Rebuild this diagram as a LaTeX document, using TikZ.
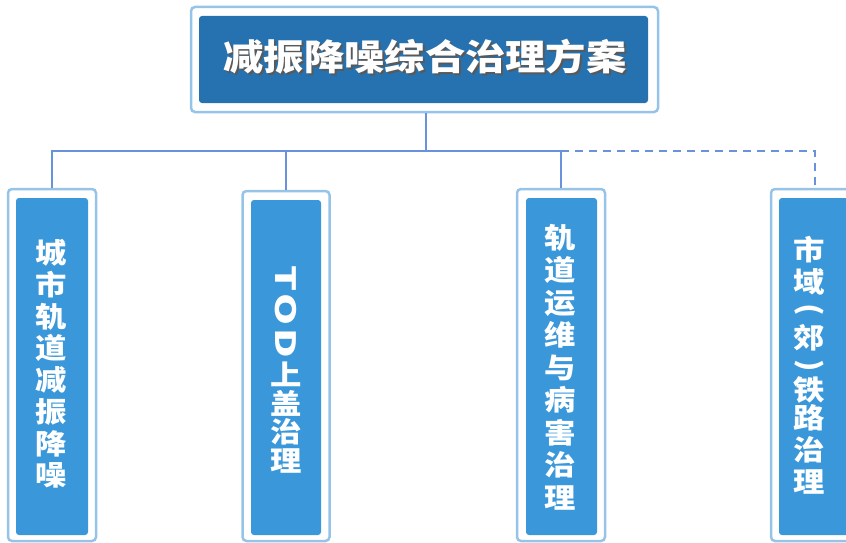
\documentclass[tikz,border=0pt]{standalone}
\usepackage{fontspec}
\setmainfont{Noto Sans CJK SC}[BoldFont={Noto Sans CJK SC Black}]
\newfontfamily\widecjk{Noto Sans CJK SC Black}[FakeStretch=1.12]
\definecolor{framecol}{RGB}{150,196,232}
\definecolor{titlefill}{RGB}{38,114,176}
\definecolor{childfill}{RGB}{58,152,218}
\definecolor{conncol}{RGB}{104,146,220}
\newcommand{\titletext}{减振降噪综合治理方案}
\newcommand{\vparen}[1]{\rotatebox[origin=c]{-90}{#1}}
\begin{document}
\begin{tikzpicture}[x=1pt,y=-1pt,
  outerbox/.style={draw=framecol, line width=2.5pt, fill=white, rounded corners=4pt, inner sep=0pt},
  innerbox/.style={fill=#1, rounded corners=3pt, inner sep=0pt},
  childlabel/.style={text=white, inner sep=0pt, align=center, font=\widecjk\fontsize{28}{#1}\selectfont},
  connline/.style={draw=conncol, line width=2pt},
  dashline/.style={draw=conncol, line width=2pt, dash pattern=on 8pt off 6pt}]
\useasboundingbox (0,0) rectangle (846,543);
% title
\node[outerbox, minimum width=467pt, minimum height=105pt] (top) at (424.5,59.5) {};
\node[innerbox=titlefill, minimum width=449pt, minimum height=87pt] (topin) at (423.5,59.5) {};
\node[text=white, inner sep=0pt, font=\widecjk\fontsize{36}{36}\selectfont] (toptext) at (425,58)
  {\makebox[0pt][l]{\kern2pt\raisebox{-2pt}{\color{black!65}\titletext}}\titletext};
% children
\node[outerbox, minimum width=88pt, minimum height=352pt] (o1) at (52,365) {};
\node[innerbox=childfill, minimum width=72pt, minimum height=337pt] (i1) at (52,366.5) {};
\node[childlabel=31.7] (t1) at (51,364) {城\\市\\轨\\道\\减\\振\\降\\噪};

\node[outerbox, minimum width=87pt, minimum height=350pt] (o2) at (286,366) {};
\node[innerbox=childfill, minimum width=70pt, minimum height=335pt] (i2) at (286,367.5) {};
\node[childlabel=28.5] (t2) at (286,369)
  {\rotatebox{-90}{\scalebox{1.3}[1]{T}\kern2.5pt\scalebox{1.3}[1]{O}\kern2.5pt\scalebox{1.3}[1]{D}}\\[3pt]上\\盖\\治\\理};

\node[outerbox, minimum width=88pt, minimum height=352pt] (o3) at (561,365) {};
\node[innerbox=childfill, minimum width=71pt, minimum height=337pt] (i3) at (561.5,366.5) {};
\node[childlabel=32.5] (t3) at (560,367) {轨\\道\\运\\维\\与\\病\\害\\治\\理};

\node[outerbox, minimum width=88pt, minimum height=352pt] (o4) at (815,365) {};
\node[innerbox=childfill, minimum width=72pt, minimum height=337pt] (i4) at (815,366.5) {};
\node[childlabel=28] (t4) at (809,365) {市\\[4pt]域\\[-2pt]\vparen{(}\\[2pt]郊\\[-2pt]\vparen{)}\\[-2pt]铁\\[0pt]路\\[4pt]治\\[4pt]理};

% connectors
\coordinate (bus) at (426,151);
\draw[connline] (top.south -| bus) -- (bus);
\draw[connline] (o1.north) |- (bus) -| (o3.north);
\draw[connline] (o2.north) -- (o2.north |- bus);
\draw[dashline] (o3.north |- bus) -| (o4.north);
\end{tikzpicture}
\end{document}
